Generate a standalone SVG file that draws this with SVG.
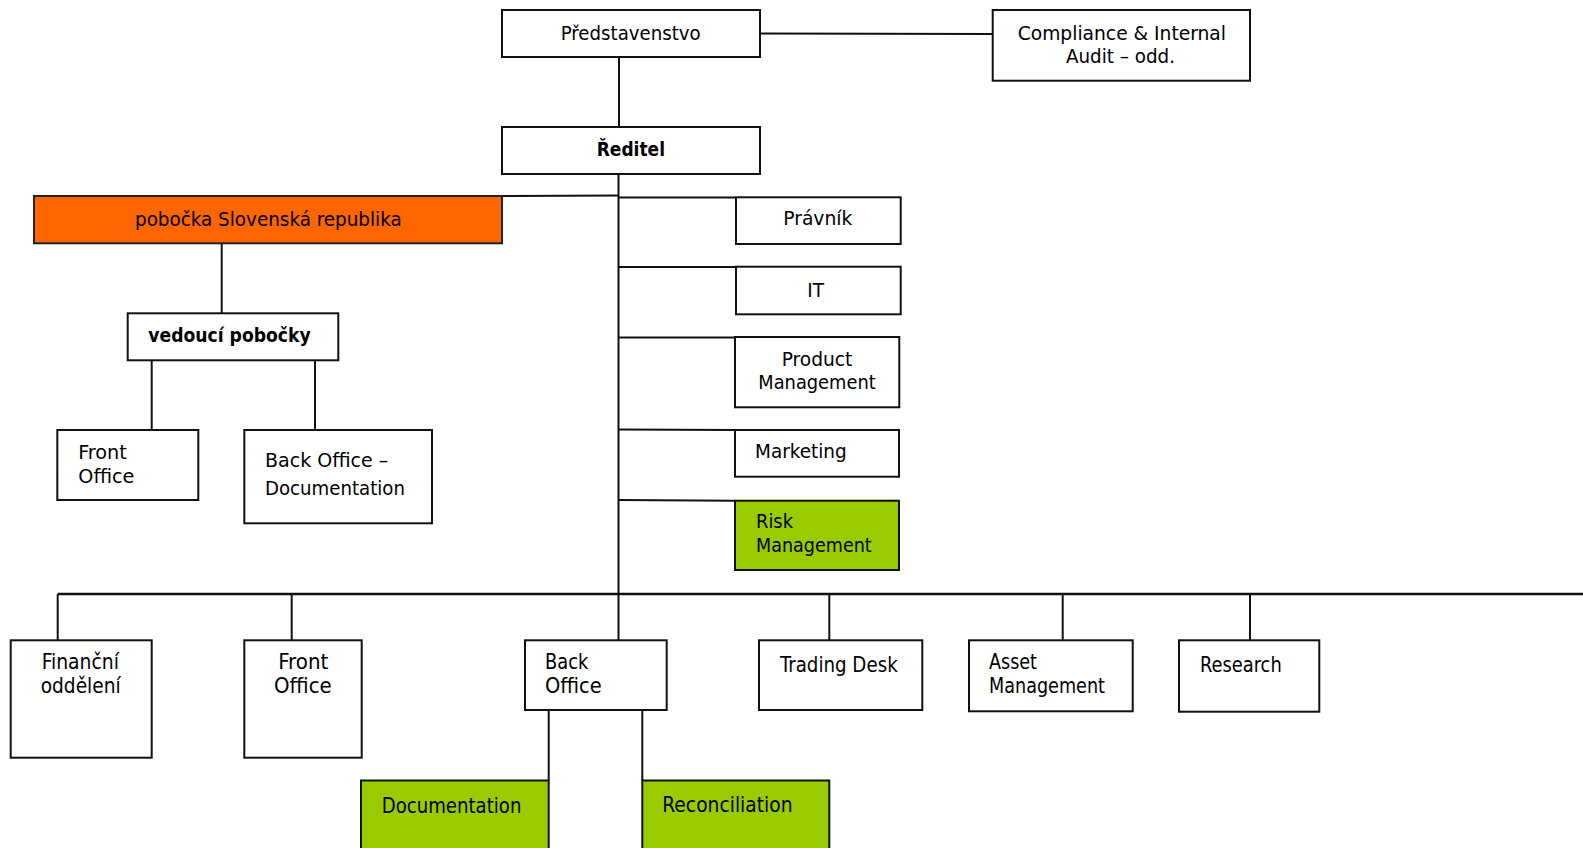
<svg xmlns="http://www.w3.org/2000/svg" width="1583" height="848" viewBox="0 0 1583 848">
<style>
.box{fill:#fff;stroke:#111;stroke-width:2}
.org{fill:#ff6600;stroke:#222;stroke-width:2}
.grn{fill:#99cc00;stroke:#111;stroke-width:2}
.ln{stroke:#111;stroke-width:2;fill:none}
text{font-family:"DejaVu Sans Condensed","DejaVu Sans",sans-serif;font-size:20px;fill:#000}
.b{font-weight:bold}
.bt{font-size:21px}
</style>
<rect width="1583" height="848" fill="#fff"/>
<g id="connectors">
<line class="ln" x1="619" y1="57" x2="619" y2="127"/>
<line class="ln" x1="760" y1="33.5" x2="993" y2="34"/>
<line class="ln" x1="618.5" y1="174" x2="618.5" y2="640"/>
<line class="ln" x1="502" y1="196" x2="618.5" y2="195.5"/>
<line class="ln" x1="618.5" y1="197.5" x2="736" y2="197.5"/>
<line class="ln" x1="618.5" y1="267" x2="736" y2="267"/>
<line class="ln" x1="618.5" y1="337.5" x2="735" y2="337.5"/>
<line class="ln" x1="618.5" y1="429.5" x2="735" y2="430"/>
<line class="ln" x1="618.5" y1="500" x2="735" y2="500.7"/>
<line class="ln" x1="221.7" y1="243" x2="221.7" y2="313.3"/>
<line class="ln" x1="151.7" y1="360.3" x2="151.7" y2="430"/>
<line class="ln" x1="315" y1="360.3" x2="315" y2="430"/>
<line class="ln" x1="57.7" y1="594" x2="1583" y2="594" style="stroke-width:2.3"/>
<line class="ln" x1="57.7" y1="594" x2="57.7" y2="640.3"/>
<line class="ln" x1="291.7" y1="594" x2="291.7" y2="640.3"/>
<line class="ln" x1="829.3" y1="594" x2="829.3" y2="640.3"/>
<line class="ln" x1="1062.7" y1="594" x2="1062.7" y2="640.3"/>
<line class="ln" x1="1250" y1="594" x2="1250" y2="640.3"/>
<line class="ln" x1="548.7" y1="710" x2="548.7" y2="780.5"/>
<line class="ln" x1="642.3" y1="710" x2="642.3" y2="780.5"/>
</g>
<g id="predstavenstvo"><rect class="box" x="502" y="10" width="258" height="47"/><text x="560.7" y="40" textLength="140" lengthAdjust="spacingAndGlyphs">Představenstvo</text></g>
<g id="compliance"><rect class="box" x="992.7" y="10" width="257.3" height="70.7"/><text x="1017.7" y="40" textLength="208.3" lengthAdjust="spacingAndGlyphs">Compliance &amp; Internal</text><text x="1066" y="63.3" textLength="109" lengthAdjust="spacingAndGlyphs">Audit – odd.</text></g>
<g id="reditel"><rect class="box" x="502" y="127" width="258" height="47"/><text class="b" x="596.7" y="156" textLength="68.3" lengthAdjust="spacingAndGlyphs">Ředitel</text></g>
<g id="pobocka"><rect class="org" x="34" y="196" width="468" height="47.3"/><text x="135" y="226" textLength="266.7" lengthAdjust="spacingAndGlyphs">pobočka Slovenská republika</text></g>
<g id="vedouci"><rect class="box" x="127.7" y="313.3" width="210.6" height="47"/><text class="b" x="148.3" y="341.7" textLength="162.4" lengthAdjust="spacingAndGlyphs">vedoucí pobočky</text></g>
<g id="front-office-branch"><rect class="box" x="57.3" y="430" width="141" height="70"/><text x="78.3" y="459" textLength="48.4" lengthAdjust="spacingAndGlyphs">Front</text><text x="78.3" y="482.7" textLength="56" lengthAdjust="spacingAndGlyphs">Office</text></g>
<g id="back-office-doc"><rect class="box" x="244.3" y="430" width="187.7" height="93.3"/><text x="265" y="467.3" textLength="123.3" lengthAdjust="spacingAndGlyphs">Back Office –</text><text x="265" y="495" textLength="140" lengthAdjust="spacingAndGlyphs">Documentation</text></g>
<g id="pravnik"><rect class="box" x="736" y="197.3" width="164.7" height="46.7"/><text x="783.3" y="225" textLength="69" lengthAdjust="spacingAndGlyphs">Právník</text></g>
<g id="it"><rect class="box" x="736" y="266.7" width="164.7" height="47.6"/><text x="807.3" y="297.3" textLength="16.7" lengthAdjust="spacingAndGlyphs">IT</text></g>
<g id="product"><rect class="box" x="735" y="337" width="164.3" height="70.3"/><text x="781.7" y="365.7" textLength="70.6" lengthAdjust="spacingAndGlyphs">Product</text><text x="758.3" y="389" textLength="117.4" lengthAdjust="spacingAndGlyphs">Management</text></g>
<g id="marketing"><rect class="box" x="735" y="430" width="164" height="46.7"/><text x="755" y="458.3" textLength="91.7" lengthAdjust="spacingAndGlyphs">Marketing</text></g>
<g id="risk"><rect class="grn" x="735" y="500.7" width="164" height="69.3"/><text x="756" y="528.3" textLength="37" lengthAdjust="spacingAndGlyphs">Risk</text><text x="756" y="551.7" textLength="115.7" lengthAdjust="spacingAndGlyphs">Management</text></g>
<g id="financni"><rect class="box" x="10.7" y="640.3" width="141" height="117.4"/><text class="bt" x="41.7" y="669.3" textLength="77.3" lengthAdjust="spacingAndGlyphs">Finanční</text><text class="bt" x="40.7" y="693.3" textLength="80" lengthAdjust="spacingAndGlyphs">oddělení</text></g>
<g id="front-office"><rect class="box" x="244.3" y="640.3" width="117.4" height="117.4"/><text class="bt" x="278.3" y="669.3" textLength="50" lengthAdjust="spacingAndGlyphs">Front</text><text class="bt" x="274" y="693.3" textLength="57.7" lengthAdjust="spacingAndGlyphs">Office</text></g>
<g id="back-office"><rect class="box" x="525" y="640.3" width="141.7" height="69.7"/><text class="bt" x="545" y="669.3" textLength="43.3" lengthAdjust="spacingAndGlyphs">Back</text><text class="bt" x="545" y="692.7" textLength="56.7" lengthAdjust="spacingAndGlyphs">Office</text></g>
<g id="trading"><rect class="box" x="759" y="640.3" width="163.3" height="69.7"/><text class="bt" x="780" y="672.3" textLength="117.7" lengthAdjust="spacingAndGlyphs">Trading Desk</text></g>
<g id="asset"><rect class="box" x="969" y="640.3" width="163.7" height="71"/><text class="bt" x="989" y="668.8" textLength="48" lengthAdjust="spacingAndGlyphs">Asset</text><text class="bt" x="989" y="693.3" textLength="116" lengthAdjust="spacingAndGlyphs">Management</text></g>
<g id="research"><rect class="box" x="1179" y="640.3" width="140.3" height="71.4"/><text class="bt" x="1200" y="672.3" textLength="81.7" lengthAdjust="spacingAndGlyphs">Research</text></g>
<g id="documentation"><rect class="grn" x="361" y="780.5" width="187.7" height="80"/><text class="bt" x="381.7" y="812.7" textLength="139.7" lengthAdjust="spacingAndGlyphs">Documentation</text></g>
<g id="reconciliation"><rect class="grn" x="642.3" y="780.5" width="187" height="80"/><text class="bt" x="662.3" y="811.7" textLength="130.3" lengthAdjust="spacingAndGlyphs">Reconciliation</text></g>
</svg>
